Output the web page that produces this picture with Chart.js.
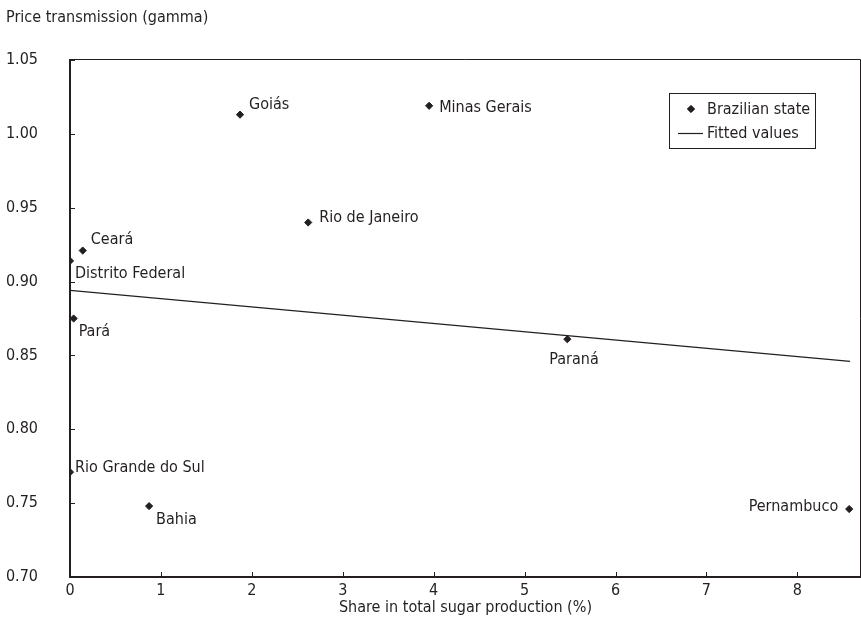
<!DOCTYPE html>
<html>
<head>
<meta charset="utf-8">
<title>Price transmission vs sugar production share</title>
<script src="https://cdn.jsdelivr.net/npm/chart.js@4.4.0/dist/chart.umd.min.js"></script>
<style>
  html, body { margin: 0; padding: 0; background: #fff; overflow: hidden; }
  #wrap { width: 861px; height: 623px; position: relative; }
  canvas { display: block; }
</style>
</head>
<body>
<div id="wrap"><canvas id="gammaChart"></canvas></div>
<script>
// Data
const stateNames = ['Goiás', 'Minas Gerais', 'Rio de Janeiro', 'Ceará', 'Distrito Federal',
                    'Pará', 'Paraná', 'Rio Grande do Sul', 'Bahia', 'Pernambuco'];
const sugarShare = [1.87, 3.95, 2.62, 0.14, 0.0, 0.04, 5.47, 0.0, 0.87, 8.57];
const gammaValues = [1.013, 1.019, 0.940, 0.921, 0.914, 0.875, 0.861, 0.771, 0.748, 0.746];
const fittedShare = [0, 8.58];
const fittedGamma = [0.894, 0.846];
const xTickValues = [0, 1, 2, 3, 4, 5, 6, 7, 8];
const yTickValues = [0.70, 0.75, 0.80, 0.85, 0.90, 0.95, 1.00, 1.05];

const xAxisTitle = 'Share in total sugar production (%)';
const yAxisTitle = 'Price transmission (gamma)';
const seriesNames = ['Brazilian state', 'Fitted values'];

// Where each state's name sits relative to its marker (pixels)
const labelPlacement = {
    'Goiás': { dx: 9, dy: -6, align: 'left' },
    'Minas Gerais': { dx: 10, dy: 6, align: 'left' },
    'Rio de Janeiro': { dx: 11, dy: 0, align: 'left' },
    'Ceará': { dx: 8, dy: -7, align: 'left' },
    'Distrito Federal': { dx: 5, dy: 17, align: 'left' },
    'Pará': { dx: 5, dy: 17, align: 'left' },
    'Paraná': { dx: -18, dy: 25, align: 'left' },
    'Rio Grande do Sul': { dx: 5, dy: 0, align: 'left' },
    'Bahia': { dx: 7, dy: 18, align: 'left' },
    'Pernambuco': { dx: -11, dy: 2, align: 'right' }
};

const ink = '#231f20';
const fontFamily = "'DejaVu Sans Condensed', 'Liberation Sans Narrow', sans-serif";
const fontSize = 16;

// Frame, inward ticks, point labels, legend and y title
const annotations = {
    id: 'annotations',
    afterDraw(chart) {
        const { ctx, chartArea: a, scales: { x, y } } = chart;
        ctx.save();
        ctx.strokeStyle = ink;
        ctx.fillStyle = ink;

        // top and right edges of the box
        ctx.lineWidth = 1;
        ctx.beginPath();
        ctx.moveTo(a.left, a.top - 0.5);
        ctx.lineTo(a.right - 0.5, a.top - 0.5);
        ctx.lineTo(a.right - 0.5, a.bottom);
        ctx.stroke();

        // small tick marks pointing into the plot
        ctx.beginPath();
        x.ticks.forEach(t => {
            const px = Math.round(x.getPixelForValue(t.value)) + 0.5;
            ctx.moveTo(px, a.bottom);
            ctx.lineTo(px, a.bottom - 5);
        });
        y.ticks.forEach(t => {
            const py = Math.round(y.getPixelForValue(t.value)) + 0.5;
            ctx.moveTo(a.left, py);
            ctx.lineTo(a.left + 5, py);
        });
        ctx.stroke();

        // state names next to the markers
        ctx.font = `${fontSize}px ${fontFamily}`;
        ctx.textBaseline = 'alphabetic';
        stateNames.forEach((name, i) => {
            const p = labelPlacement[name];
            const px = x.getPixelForValue(sugarShare[i]);
            const py = y.getPixelForValue(gammaValues[i]);
            ctx.textAlign = p.align;
            ctx.fillText(name, px + p.dx, py + p.dy);
        });

        // legend box in the upper right
        const bx = a.right - 192, by = a.top + 33, bw = 146, bh = 55;
        ctx.lineWidth = 1;
        ctx.strokeRect(bx + 0.5, by + 0.5, bw, bh);
        const pts = chart.data.datasets[0];
        Chart.helpers.drawPoint(ctx, {
            pointStyle: pts.pointStyle, radius: pts.pointRadius,
            borderWidth: 1, rotation: 0
        }, bx + 22, by + 16);
        ctx.fill();
        ctx.lineWidth = 1.2;
        ctx.beginPath();
        ctx.moveTo(bx + 9, by + 40.5);
        ctx.lineTo(bx + 34, by + 40.5);
        ctx.stroke();
        ctx.textAlign = 'left';
        ctx.fillText(seriesNames[0], bx + 38, by + 21);
        ctx.fillText(seriesNames[1], bx + 38, by + 45);

        // y axis title above the plot
        ctx.fillText(yAxisTitle, 6, 22);
        ctx.restore();
    }
};

const ctx = document.getElementById('gammaChart').getContext('2d');
const gammaChart = new Chart(ctx, {
    type: 'scatter',
    data: {
        datasets: [{
            label: seriesNames[0],
            data: sugarShare.map((v, i) => ({ x: v, y: gammaValues[i] })),
            pointStyle: 'rectRot',
            pointRadius: 3.6,
            pointBackgroundColor: ink,
            pointBorderColor: ink,
            pointBorderWidth: 1
        }, {
            type: 'line',
            label: seriesNames[1],
            data: fittedShare.map((v, i) => ({ x: v, y: fittedGamma[i] })),
            borderColor: ink,
            borderWidth: 1.3,
            pointRadius: 0,
            fill: false
        }]
    },
    options: {
        responsive: true,
        maintainAspectRatio: false,
        animation: false,
        layout: { autoPadding: false, padding: { top: 60, right: 0, bottom: 0, left: 6 } },
        scales: {
            x: {
                type: 'linear',
                min: 0,
                max: 8.7,
                afterBuildTicks: s => { s.ticks = xTickValues.map(v => ({ value: v })); },
                afterFit: s => { s.height = 46; s.paddingLeft = 0; s.paddingRight = 0; },
                grid: { display: false, drawTicks: false },
                border: { display: true, color: ink, width: 2 },
                ticks: {
                    color: ink, padding: 4,
                    font: { family: fontFamily, size: fontSize },
                    callback: v => String(v)
                },
                title: {
                    display: true, text: xAxisTitle, color: ink,
                    font: { family: fontFamily, size: fontSize },
                    padding: { top: 0, bottom: 6 }
                }
            },
            y: {
                type: 'linear',
                min: 0.70,
                max: 1.05,
                afterBuildTicks: s => { s.ticks = yTickValues.map(v => ({ value: v })); },
                afterFit: s => { s.width = 64; s.paddingTop = 0; s.paddingBottom = 0; },
                grid: { display: false, drawTicks: false },
                border: { display: true, color: ink, width: 2 },
                ticks: {
                    color: ink, padding: 32,
                    font: { family: fontFamily, size: fontSize },
                    callback: v => Number(v).toFixed(2)
                }
            }
        },
        plugins: {
            legend: { display: false },
            tooltip: { enabled: false }
        }
    },
    plugins: [annotations]
});
</script>
</body>
</html>
